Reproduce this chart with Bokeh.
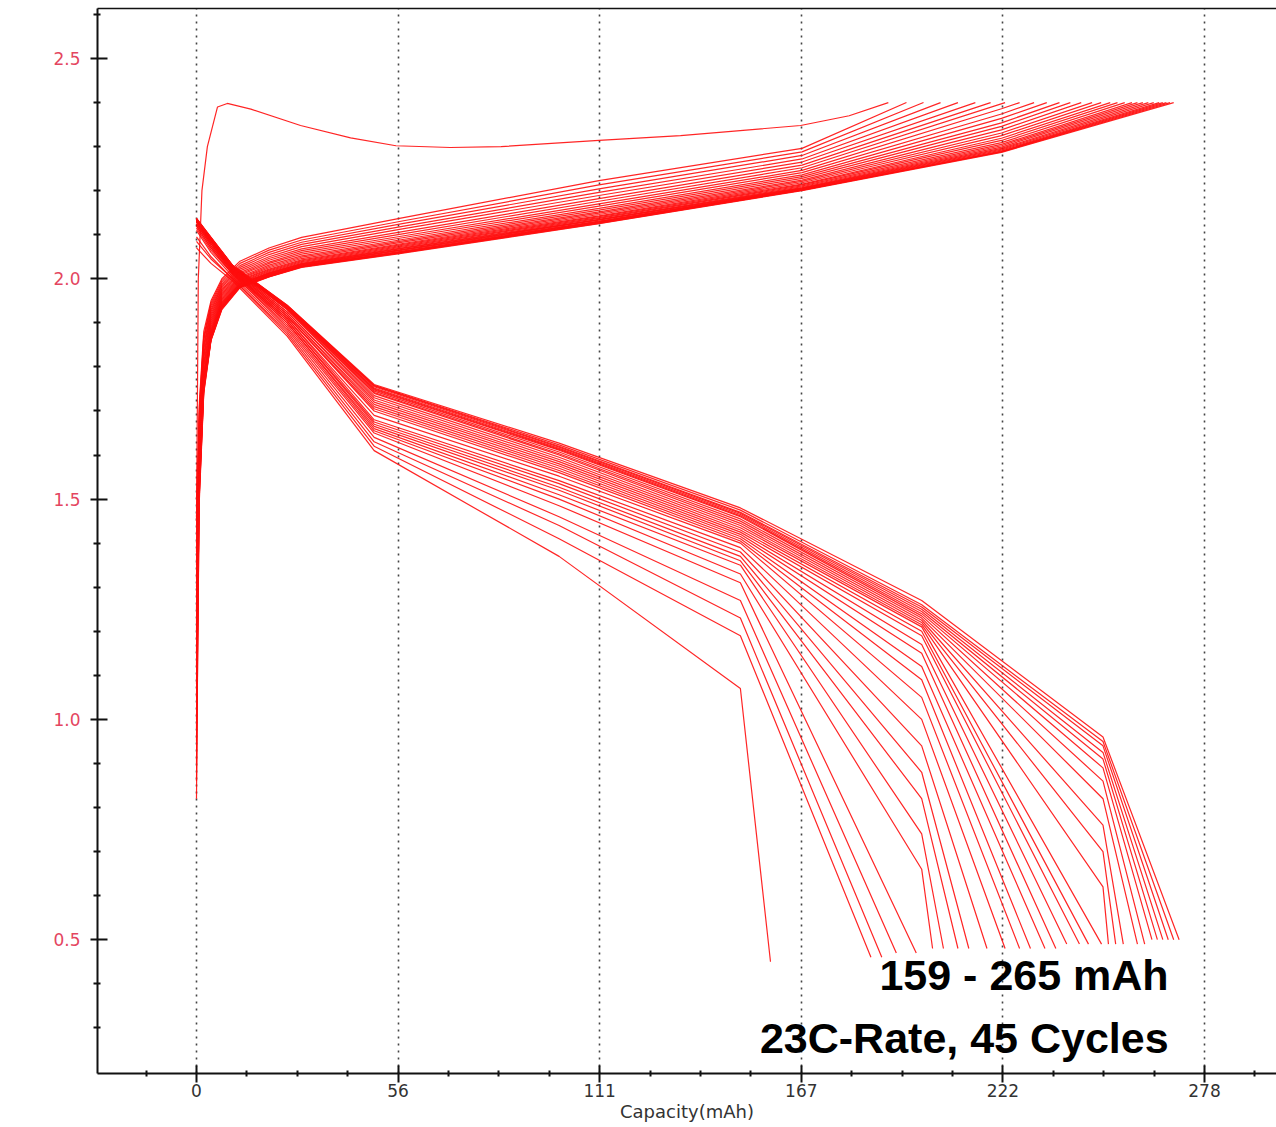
from bokeh.plotting import figure
from bokeh.models import FixedTicker, LinearAxis, Label, Range1d, NumeralTickFormatter
from bokeh.embed import file_html
from bokeh.resources import INLINE

# ---------------- data ----------------
# Charge curves: voltage at shared capacity grid, ending at the 2.40 V cut-off
CHG_GRID = [0, 0.8, 2, 4, 7, 12, 20, 29, 56, 111, 167, 222]
CHG_END_V = 2.40
CHG_END_CAP = [195.8, 200.5, 205.2, 210.0, 214.8, 219.0, 223.0, 227.0, 231.0, 234.5,
               238.0, 241.0, 244.0, 247.0, 249.5, 252.0, 254.0, 256.0, 258.0, 259.5,
               261.0, 262.5, 264.0, 265.5, 266.5, 267.5, 268.5, 269.5]
CHG_V = [
    [1.50, 1.72, 1.88, 1.95, 2.000, 2.040, 2.070, 2.094, 2.137, 2.223, 2.296],
    [1.32, 1.71, 1.87, 1.945, 1.996, 2.035, 2.065, 2.088, 2.130, 2.213, 2.288],
    [1.15, 1.70, 1.865, 1.94, 1.992, 2.030, 2.060, 2.083, 2.124, 2.204, 2.280],
    [0.95, 1.69, 1.86, 1.935, 1.988, 2.026, 2.055, 2.078, 2.118, 2.196, 2.272],
    [1.42, 1.68, 1.85, 1.93, 1.985, 2.022, 2.050, 2.073, 2.112, 2.189, 2.265],
    [1.25, 1.67, 1.845, 1.925, 1.982, 2.018, 2.046, 2.068, 2.106, 2.182, 2.258],
    [0.82, 1.66, 1.84, 1.92, 1.978, 2.014, 2.042, 2.064, 2.101, 2.176, 2.252],
    [1.38, 1.65, 1.83, 1.915, 1.975, 2.011, 2.038, 2.060, 2.096, 2.170, 2.246, 2.386],
    [1.08, 1.64, 1.825, 1.91, 1.972, 2.008, 2.035, 2.056, 2.092, 2.165, 2.241, 2.374],
    [1.46, 1.63, 1.82, 1.905, 1.969, 2.005, 2.031, 2.052, 2.088, 2.160, 2.236, 2.364],
    [1.20, 1.62, 1.81, 1.90, 1.966, 2.002, 2.028, 2.049, 2.085, 2.156, 2.232, 2.354],
    [0.90, 1.61, 1.805, 1.895, 1.963, 2.000, 2.025, 2.046, 2.082, 2.152, 2.228, 2.346],
    [1.35, 1.60, 1.80, 1.89, 1.960, 1.998, 2.022, 2.043, 2.079, 2.149, 2.224, 2.338],
    [1.12, 1.59, 1.79, 1.885, 1.957, 1.996, 2.020, 2.041, 2.077, 2.146, 2.221, 2.331],
    [1.48, 1.58, 1.785, 1.88, 1.954, 1.994, 2.018, 2.039, 2.075, 2.143, 2.218, 2.325],
    [1.28, 1.57, 1.78, 1.88, 1.951, 1.992, 2.016, 2.037, 2.073, 2.141, 2.215, 2.319],
    [1.00, 1.565, 1.775, 1.875, 1.948, 1.990, 2.014, 2.035, 2.071, 2.139, 2.213, 2.314],
    [1.40, 1.56, 1.77, 1.875, 1.946, 1.989, 2.013, 2.034, 2.069, 2.137, 2.211, 2.309],
    [1.18, 1.555, 1.77, 1.87, 1.944, 1.988, 2.012, 2.033, 2.068, 2.135, 2.209, 2.305],
    [1.44, 1.55, 1.765, 1.87, 1.942, 1.987, 2.011, 2.032, 2.066, 2.134, 2.207, 2.302],
    [0.86, 1.545, 1.76, 1.868, 1.940, 1.986, 2.010, 2.031, 2.065, 2.133, 2.206, 2.299],
    [1.30, 1.54, 1.758, 1.866, 1.938, 1.985, 2.009, 2.030, 2.064, 2.131, 2.205, 2.296],
    [1.05, 1.535, 1.755, 1.865, 1.937, 1.984, 2.008, 2.029, 2.062, 2.130, 2.204, 2.294],
    [1.47, 1.53, 1.752, 1.864, 1.936, 1.983, 2.007, 2.028, 2.061, 2.129, 2.203, 2.292],
    [1.22, 1.52, 1.75, 1.863, 1.935, 1.982, 2.006, 2.028, 2.060, 2.128, 2.202, 2.290],
    [1.36, 1.515, 1.746, 1.862, 1.933, 1.981, 2.005, 2.027, 2.059, 2.127, 2.201, 2.289],
    [0.98, 1.51, 1.743, 1.861, 1.932, 1.981, 2.005, 2.027, 2.058, 2.126, 2.201, 2.288],
    [1.45, 1.50, 1.74, 1.86, 1.930, 1.980, 2.004, 2.026, 2.057, 2.125, 2.200, 2.287],
]

# First (formation) charge curve
FIRST_CHG_CAP = [0, 0.5, 1.5, 3, 5.8, 8.5, 15, 28.7, 42.5, 55, 70, 84, 111, 133.5, 166.6, 180, 190.8]
FIRST_CHG_V = [1.45, 2.00, 2.20, 2.30, 2.39, 2.398, 2.385, 2.348, 2.32, 2.302, 2.298, 2.30,
               2.314, 2.325, 2.348, 2.37, 2.40]

# Discharge curves: voltage at shared capacity grid, then the end point
DIS_GRID = [0, 4, 10, 25, 49, 100, 150, 200, 250]
DIS_END_CAP = [158.3, 186.0, 189.0, 193.0, 198.5, 203.0, 206.0, 210.0, 213.0, 218.0,
               223.0, 227.0, 230.0, 234.0, 237.0, 240.0, 243.5, 246.0, 249.6, 251.5,
               253.5, 255.6, 259.5, 261.5, 263.5, 265.0, 266.5, 268.0, 269.5, 271.0]
DIS_END_V = [0.45, 0.46, 0.46, 0.47, 0.47, 0.48, 0.48, 0.48, 0.48, 0.48,
             0.48, 0.48, 0.48, 0.48, 0.48, 0.49, 0.49, 0.49, 0.49, 0.49,
             0.49, 0.49, 0.49, 0.49, 0.50, 0.50, 0.50, 0.50, 0.50, 0.50]
DIS_V = [
    [2.07, 2.035, 1.995, 1.87, 1.61, 1.37, 1.07],
    [2.085, 2.045, 2.00, 1.875, 1.62, 1.41, 1.19],
    [2.095, 2.05, 2.00, 1.88, 1.63, 1.44, 1.23],
    [2.11, 2.06, 2.005, 1.885, 1.64, 1.46, 1.27],
    [2.115, 2.065, 2.01, 1.89, 1.65, 1.485, 1.31],
    [2.12, 2.07, 2.01, 1.895, 1.655, 1.50, 1.33, 0.66],
    [2.12, 2.07, 2.012, 1.90, 1.66, 1.51, 1.35, 0.74],
    [2.125, 2.075, 2.014, 1.90, 1.665, 1.52, 1.36, 0.82],
    [2.125, 2.075, 2.015, 1.905, 1.67, 1.527, 1.37, 0.88],
    [2.125, 2.08, 2.016, 1.905, 1.675, 1.535, 1.38, 0.94],
    [2.13, 2.08, 2.017, 1.91, 1.68, 1.542, 1.39, 1.00],
    [2.13, 2.08, 2.018, 1.91, 1.69, 1.552, 1.40, 1.05],
    [2.13, 2.085, 2.019, 1.915, 1.70, 1.56, 1.405, 1.09],
    [2.13, 2.085, 2.02, 1.915, 1.705, 1.565, 1.41, 1.12],
    [2.13, 2.085, 2.021, 1.92, 1.71, 1.57, 1.415, 1.15],
    [2.13, 2.085, 2.022, 1.92, 1.715, 1.575, 1.42, 1.17],
    [2.132, 2.088, 2.023, 1.925, 1.72, 1.58, 1.425, 1.19],
    [2.132, 2.088, 2.024, 1.925, 1.725, 1.585, 1.43, 1.20],
    [2.132, 2.088, 2.025, 1.93, 1.73, 1.59, 1.435, 1.21],
    [2.133, 2.09, 2.026, 1.93, 1.735, 1.595, 1.44, 1.215, 0.62],
    [2.133, 2.09, 2.026, 1.932, 1.74, 1.60, 1.445, 1.22, 0.70],
    [2.134, 2.09, 2.027, 1.933, 1.742, 1.603, 1.45, 1.225, 0.76],
    [2.134, 2.09, 2.027, 1.934, 1.745, 1.607, 1.455, 1.23, 0.82],
    [2.135, 2.092, 2.028, 1.935, 1.748, 1.611, 1.46, 1.235, 0.86],
    [2.135, 2.092, 2.028, 1.936, 1.75, 1.613, 1.462, 1.24, 0.89],
    [2.135, 2.092, 2.029, 1.937, 1.752, 1.615, 1.465, 1.245, 0.91],
    [2.136, 2.093, 2.029, 1.938, 1.755, 1.618, 1.468, 1.25, 0.925],
    [2.136, 2.093, 2.03, 1.939, 1.757, 1.62, 1.47, 1.255, 0.94],
    [2.137, 2.094, 2.03, 1.94, 1.758, 1.623, 1.475, 1.26, 0.95],
    [2.137, 2.094, 2.03, 1.94, 1.76, 1.627, 1.48, 1.27, 0.96],
]

# Axis ticks
X_TICKS = [0, 55.6, 111.2, 166.8, 222.4, 278.0]
X_TICK_LABELS = ["0", "56", "111", "167", "222", "278"]
X_MINOR = [-13.9, 13.9, 27.8, 41.7, 69.5, 83.4, 97.3, 125.1, 139.0, 152.9, 180.7,
           194.6, 208.5, 236.3, 250.2, 264.1, 291.9]
Y_TICKS = [0.5, 1.0, 1.5, 2.0, 2.5]
Y_MINOR = [0.3, 0.4, 0.6, 0.7, 0.8, 0.9, 1.1, 1.2, 1.3, 1.4, 1.6, 1.7, 1.8, 1.9,
           2.1, 2.2, 2.3, 2.4, 2.6]
X_TITLE = "Capacity(mAh)"
NOTE_1 = "159 - 265 mAh"
NOTE_2 = "23C-Rate, 45 Cycles"

# ---------------- build line lists ----------------
chg_xs, chg_ys = [], []
for v, end in zip(CHG_V, CHG_END_CAP):
    chg_xs.append(CHG_GRID[:len(v)] + [end])
    chg_ys.append(v + [CHG_END_V])

dis_xs, dis_ys = [], []
for v, end, ev in zip(DIS_V, DIS_END_CAP, DIS_END_V):
    dis_xs.append(DIS_GRID[:len(v)] + [end])
    dis_ys.append(v + [ev])

# ---------------- figure ----------------
p = figure(width=1276, height=1127, output_backend="svg", toolbar_location=None,
           x_range=Range1d(-27.3, 297.85), y_range=Range1d(0.1963, 2.6135),
           min_border_left=97, min_border_right=0, min_border_top=8, min_border_bottom=54)
p.outline_line_color = None
p.background_fill_color = "white"
p.border_fill_color = "white"

RED = "#ff0d0d"
p.multi_line(chg_xs, chg_ys, line_color=RED, line_width=1.2, line_alpha=0.9)
p.multi_line(dis_xs, dis_ys, line_color=RED, line_width=1.2, line_alpha=0.9)
p.line(FIRST_CHG_CAP, FIRST_CHG_V, line_color=RED, line_width=1.2, line_alpha=0.9)

# x axis
xax = p.xaxis[0]
xax.ticker = FixedTicker(ticks=X_TICKS, minor_ticks=X_MINOR)
xax.major_label_overrides = {t: l for t, l in zip(X_TICKS, X_TICK_LABELS)}
xax.axis_label = X_TITLE
xax.axis_label_text_font = "DejaVu Sans"
xax.axis_label_text_font_style = "normal"
xax.axis_label_text_font_size = "18px"
xax.axis_label_text_color = "#333333"
xax.axis_label_standoff = 1
xax.major_label_text_font = "DejaVu Sans"
xax.major_label_text_font_size = "17px"
xax.major_label_text_color = "#333333"
xax.major_label_standoff = 1
xax.axis_line_color = "#111111"
xax.axis_line_width = 2
xax.major_tick_in = 8
xax.major_tick_out = 9
xax.minor_tick_in = 3
xax.minor_tick_out = 3
xax.major_tick_line_width = 2
xax.minor_tick_line_width = 2
xax.major_tick_line_color = "#111111"
xax.minor_tick_line_color = "#111111"

# y axis
yax = p.yaxis[0]
yax.ticker = FixedTicker(ticks=Y_TICKS, minor_ticks=Y_MINOR)
yax.formatter = NumeralTickFormatter(format="0.0")
yax.major_label_text_font = "DejaVu Sans"
yax.major_label_text_font_size = "17px"
yax.major_label_text_color = "#e4465f"
yax.major_label_standoff = 10
yax.axis_line_color = "#111111"
yax.axis_line_width = 2
yax.major_tick_in = 10
yax.major_tick_out = 7
yax.minor_tick_in = 3
yax.minor_tick_out = 4
yax.major_tick_line_width = 2
yax.minor_tick_line_width = 2
yax.major_tick_line_color = "#111111"
yax.minor_tick_line_color = "#111111"

# top frame line
top = LinearAxis(ticker=FixedTicker(ticks=[]), axis_line_color="#111111", axis_line_width=1.5,
                 major_tick_line_color=None, minor_tick_line_color=None,
                 major_label_text_font_size="0px", major_label_standoff=0)
p.add_layout(top, "above")

# grid
p.xgrid.ticker = FixedTicker(ticks=X_TICKS)
p.xgrid.grid_line_color = "#444444"
p.xgrid.grid_line_width = 1.6
p.xgrid.grid_line_dash = "2 5"
p.ygrid.grid_line_color = None

# annotations
for txt, yy in [(NOTE_1, 0.419), (NOTE_2, 0.276)]:
    p.add_layout(Label(x=268.1, y=yy, text=txt, text_align="right", text_baseline="alphabetic",
                       text_font="Liberation Sans", text_font_style="bold",
                       text_font_size="43px", text_color="black"))

open("out.html", "w").write(file_html(p, INLINE))
